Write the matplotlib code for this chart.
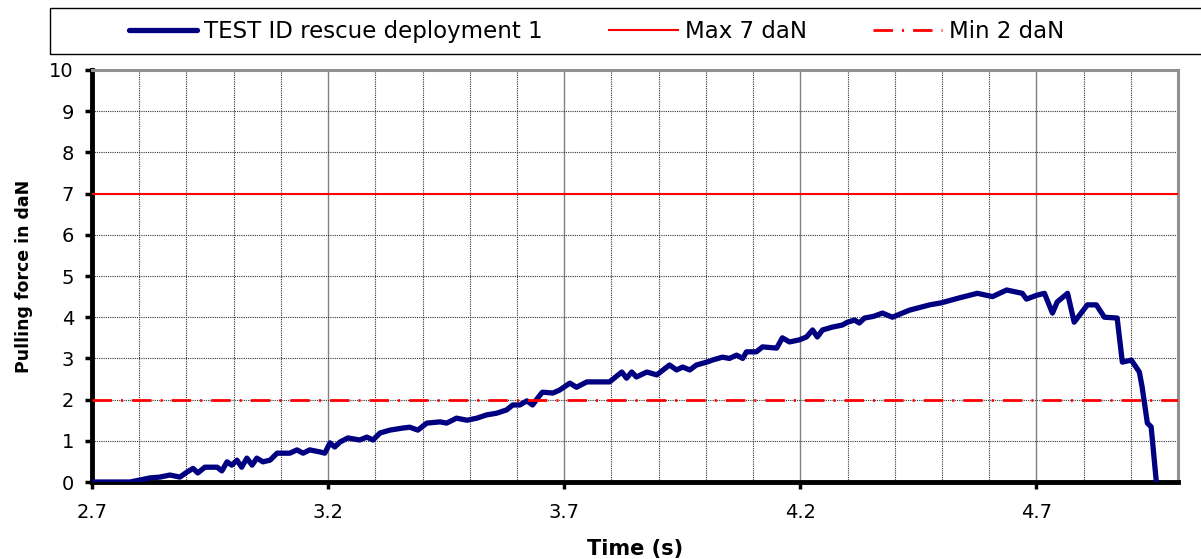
import matplotlib.pyplot as plt
from matplotlib.patches import Rectangle
from matplotlib.ticker import FixedLocator

# pulling force measurement (s, daN)
time_s = [2.700, 2.780, 2.802, 2.823, 2.844, 2.865, 2.886, 2.901, 2.914, 2.924,
          2.939, 2.965, 2.975, 2.986, 2.996, 3.007, 3.017, 3.028, 3.039, 3.049,
          3.062, 3.077, 3.092, 3.119, 3.134, 3.147, 3.161, 3.183, 3.193, 3.204,
          3.214, 3.225, 3.242, 3.267, 3.282, 3.295, 3.310, 3.331, 3.358, 3.373,
          3.390, 3.409, 3.437, 3.451, 3.472, 3.494, 3.515, 3.536, 3.557, 3.578,
          3.591, 3.606, 3.621, 3.633, 3.648, 3.654, 3.676, 3.690, 3.712, 3.726,
          3.748, 3.775, 3.796, 3.822, 3.832, 3.843, 3.853, 3.875, 3.896, 3.923,
          3.938, 3.951, 3.966, 3.980, 4.002, 4.014, 4.035, 4.050, 4.065, 4.078,
          4.086, 4.107, 4.120, 4.150, 4.162, 4.177, 4.198, 4.213, 4.226, 4.236,
          4.247, 4.268, 4.289, 4.300, 4.315, 4.325, 4.336, 4.355, 4.374, 4.395,
          4.431, 4.474, 4.499, 4.537, 4.575, 4.607, 4.637, 4.670, 4.679, 4.700,
          4.717, 4.734, 4.744, 4.766, 4.780, 4.808, 4.827, 4.844, 4.871, 4.882,
          4.901, 4.918, 4.924, 4.935, 4.943, 4.954]
force_dan = [0.00, 0.00, 0.05, 0.10, 0.12, 0.17, 0.12, 0.24, 0.33, 0.22,
             0.36, 0.36, 0.27, 0.49, 0.41, 0.53, 0.36, 0.58, 0.41, 0.58,
             0.49, 0.53, 0.70, 0.70, 0.78, 0.70, 0.78, 0.73, 0.70, 0.95,
             0.85, 0.97, 1.07, 1.02, 1.09, 1.02, 1.19, 1.26, 1.31, 1.33,
             1.26, 1.43, 1.46, 1.43, 1.55, 1.50, 1.55, 1.63, 1.67, 1.75,
             1.87, 1.87, 1.97, 1.87, 2.10, 2.18, 2.16, 2.23, 2.40, 2.30,
             2.43, 2.43, 2.43, 2.67, 2.52, 2.67, 2.55, 2.67, 2.60, 2.84,
             2.72, 2.79, 2.72, 2.84, 2.91, 2.96, 3.03, 3.00, 3.08, 3.00,
             3.16, 3.16, 3.28, 3.25, 3.50, 3.40, 3.45, 3.52, 3.69, 3.52,
             3.69, 3.76, 3.81, 3.88, 3.93, 3.86, 3.98, 4.02, 4.10, 4.00,
             4.17, 4.30, 4.35, 4.47, 4.58, 4.50, 4.66, 4.58, 4.44, 4.53,
             4.58, 4.10, 4.37, 4.58, 3.88, 4.30, 4.30, 4.00, 3.98, 2.91,
             2.96, 2.67, 2.30, 1.43, 1.34, 0.00]

max_force = 7
min_force = 2
x_ticks = [2.7, 3.2, 3.7, 4.2, 4.7]
x_tick_labels = ['2.7', '3.2', '3.7', '4.2', '4.7']
y_ticks = [0, 1, 2, 3, 4, 5, 6, 7, 8, 9, 10]

plt.rcParams['font.family'] = 'DejaVu Sans'

fig = plt.figure(figsize=(12.01, 5.59), dpi=100)
ax = fig.add_axes([0.0766, 0.1377, 0.9043, 0.7371])

line1, = ax.plot(time_s, force_dan, color='#000080', lw=3.8,
                 solid_joinstyle='round', solid_capstyle='round', zorder=3)
line2 = ax.axhline(max_force, color='#ff0000', lw=1.5, zorder=4)
line3 = ax.axhline(min_force, color='#ff0000', lw=2,
                   linestyle=(0, (7, 3.25, 0.75, 3.25)), zorder=4)

ax.set_xlim(2.7, 5.0)
ax.set_ylim(0, 10)
ax.xaxis.set_major_locator(FixedLocator(x_ticks))
ax.set_xticklabels(x_tick_labels)
ax.xaxis.set_minor_locator(FixedLocator([2.8 + 0.1 * i for i in range(22)]))
ax.set_yticks(y_ticks)

ax.grid(True, axis='x', which='major', color='#808080', lw=1, ls='-')
ax.grid(True, axis='x', which='minor', color='#333333', lw=0.8, ls=(0, (1, 1)))
ax.grid(True, axis='y', which='major', color='#333333', lw=0.8, ls=(0, (1, 1)))
ax.set_axisbelow(True)

ax.tick_params(axis='both', which='major', direction='out', length=5, width=2.5,
               labelsize=14, color='black')
ax.tick_params(axis='y', pad=8)
ax.tick_params(axis='x', pad=10)
ax.tick_params(axis='x', which='minor', length=0)

for s in ['left', 'bottom']:
    ax.spines[s].set_linewidth(3.5)
    ax.spines[s].set_color('black')
for s in ['top', 'right']:
    ax.spines[s].set_linewidth(2.2)
    ax.spines[s].set_color('#909090')

ax.set_xlabel('Time (s)', fontsize=15, fontweight='bold', labelpad=12)
ax.set_ylabel('Pulling force in daN', fontsize=12.5, fontweight='bold', labelpad=12)

fig.patches.append(Rectangle((50 / 1201, 1 - 54 / 559), 1.0, 46 / 559,
                             transform=fig.transFigure, fill=False,
                             edgecolor='black', lw=1))
fig.legend([line1, line2, line3],
           ['TEST ID rescue deployment 1', 'Max 7 daN', 'Min 2 daN'],
           loc='center', bbox_to_anchor=(0.4967, 0.9445), ncol=3, frameon=False,
           fontsize=16.5, handlelength=3.0, handletextpad=0.3, columnspacing=2.9)

fig.savefig('out.png', dpi=100)
